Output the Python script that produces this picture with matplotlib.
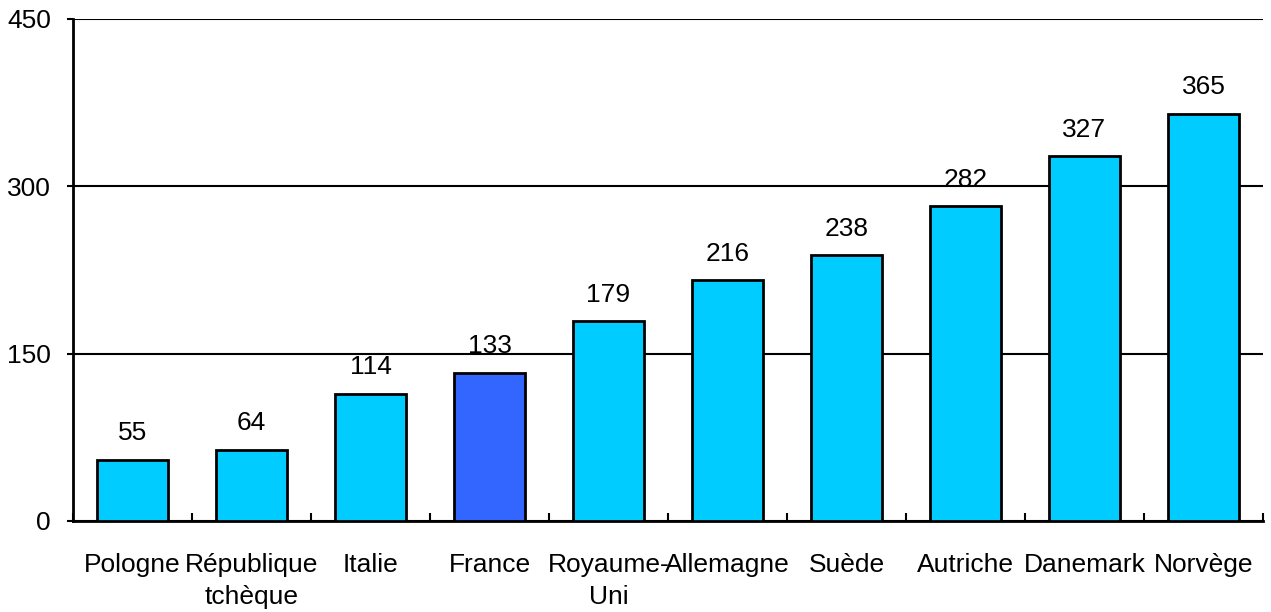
import numpy as np
import matplotlib.pyplot as plt

plt.rcParams['font.family'] = ['Liberation Sans', 'DejaVu Sans']

countries = ["Pologne", "République\ntchèque", "Italie", "France", "Royaume-\nUni",
             "Allemagne", "Suède", "Autriche", "Danemark", "Norvège"]
values = [55, 64, 114, 133, 179, 216, 238, 282, 327, 365]
highlight = "France"

colors = ["#3366FF" if c == highlight else "#00CCFF" for c in countries]

fig = plt.figure(figsize=(12.71, 6.12), dpi=100)
ax = fig.add_axes([73 / 1271, 1 - 521 / 612, (1263 - 73) / 1271, (521 - 19) / 612])

x = np.arange(len(countries))
ax.bar(x, values, width=0.59, color=colors, edgecolor="black", linewidth=2, zorder=3)

for xi, v in zip(x, values):
    ax.text(xi, v + 13, str(v), ha="center", va="bottom", fontsize=19, zorder=4)

ax.set_xlim(-0.5, len(countries) - 0.5)
ax.set_ylim(0, 450)
ax.set_yticks([0, 150, 300, 450])
ax.tick_params(axis="y", labelsize=19, length=4, width=1.5, pad=12)
ax.yaxis.grid(True, color="black", linewidth=1.5, zorder=0)

# category labels between boundary ticks
ax.set_xticks(x)
ax.set_xticklabels(countries, fontsize=19, linespacing=1.4)
ax.tick_params(axis="x", length=0, pad=23)
ax.set_xticks(np.arange(len(countries) + 1) - 0.5, minor=True)
ax.tick_params(axis="x", which="minor", direction="in", length=6, width=1.5)

for side in ["top", "right"]:
    ax.spines[side].set_visible(False)
for side in ["left", "bottom"]:
    ax.spines[side].set_linewidth(2)

fig.savefig("out.png", dpi=100)
